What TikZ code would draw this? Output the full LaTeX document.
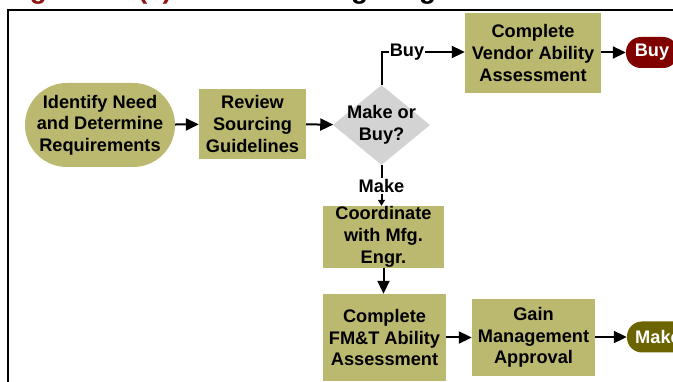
\documentclass[tikz,border=0pt]{standalone}
\usepackage{fontspec}
\setmainfont{Liberation Sans}
\usetikzlibrary{arrows.meta,shapes.geometric}
\definecolor{khaki}{RGB}{187,184,112}
\definecolor{buyred}{RGB}{128,0,0}
\definecolor{makeolive}{RGB}{107,100,0}
\definecolor{diagray}{RGB}{211,211,211}
\definecolor{titlered}{RGB}{140,22,22}
\tikzset{
  txt/.style={font=\bfseries\fontsize{18.2}{21.7}\selectfont, align=center, inner sep=0pt},
  procbox/.style={txt, fill=khaki, minimum width=#1},
  term/.style={txt, fill=khaki, rounded corners=41.9pt, minimum width=150pt, minimum height=84pt},
  endterm/.style={txt, text=white, fill=#1, rounded corners=15pt, minimum height=31pt, minimum width=52pt},
  decision/.style={txt, diamond, fill=diagray, minimum width=97pt, minimum height=80pt, aspect=1.2},
  flow/.style={line width=2pt, -{Triangle[length=13pt,width=12pt]}},
  plainline/.style={line width=2pt},
  smallflow/.style={line width=2pt, -{Triangle[length=6pt,width=7pt]}},
  lbl/.style={txt, fill=white, inner sep=1pt}
}
\begin{document}
\begin{tikzpicture}[x=1pt,y=-1pt]
\useasboundingbox (0,0) rectangle (673,382);
\clip (0,0) rectangle (673,382);
% cut-off title
\node[anchor=base west, inner sep=0pt, font=\bfseries\fontsize{27.8}{30}\selectfont] (title) at (5,-1)
  {\textcolor{titlered}{Figure 4-1(a)} – Outsourcing Diagram};
% frame
\draw[line width=2.5pt] (8,400) -- (8,10) -- (700,10);
% nodes
\node[term] (ident) at (100,125) {Identify Need\\and Determine\\Requirements};
\node[procbox=107pt, minimum height=70pt] (review) at (252.5,124) {Review\\Sourcing\\Guidelines};
\node[decision] (dec) at (381.5,125) {};
\node[txt] (dectxt) at (381.5,125) {Make or\\Buy?};
\node[procbox=136pt, minimum height=80pt] (vendor) at (533,53) {Complete\\Vendor Ability\\Assessment};
\node[endterm=buyred] (buy) at (652,52.5) {Buy};
\node[lbl] (buylbl) at (407,52) {Buy};
\node[lbl] (makelbl) at (381.5,186) {Make};
\node[procbox=121pt, minimum height=62pt] (coord) at (383.5,237) {Coordinate\\with Mfg.\\Engr.};
\node[procbox=123pt, minimum height=87pt] (fmt) at (384.5,337.5) {Complete\\FM\&T Ability\\Assessment};
\node[procbox=123pt, minimum height=77pt] (gain) at (533.5,337.5) {Gain\\Management\\Approval};
\node[endterm=makeolive, minimum width=62pt] (make) at (658,337) {Make};
% connectors
\draw[flow] (ident) -- (review);
\draw[flow] (review) -- (dec);
\draw[plainline] (dec.north) |- (buylbl.west);
\draw[flow] (buylbl.east) -- (vendor.west |- buylbl.east);
\draw[flow] (vendor.east |- buy.west) -- (buy.west);
\draw[plainline] (dec.south) -- (makelbl.north);
\draw[smallflow] (makelbl.south) -- (coord.north -| makelbl.south);
\draw[flow] (coord.south) -- (coord.south |- fmt.north);
\draw[flow] (fmt.east |- gain.west) -- (gain.west);
\draw[flow] (gain.east |- make.west) -- (make.west);
\end{tikzpicture}
\end{document}
